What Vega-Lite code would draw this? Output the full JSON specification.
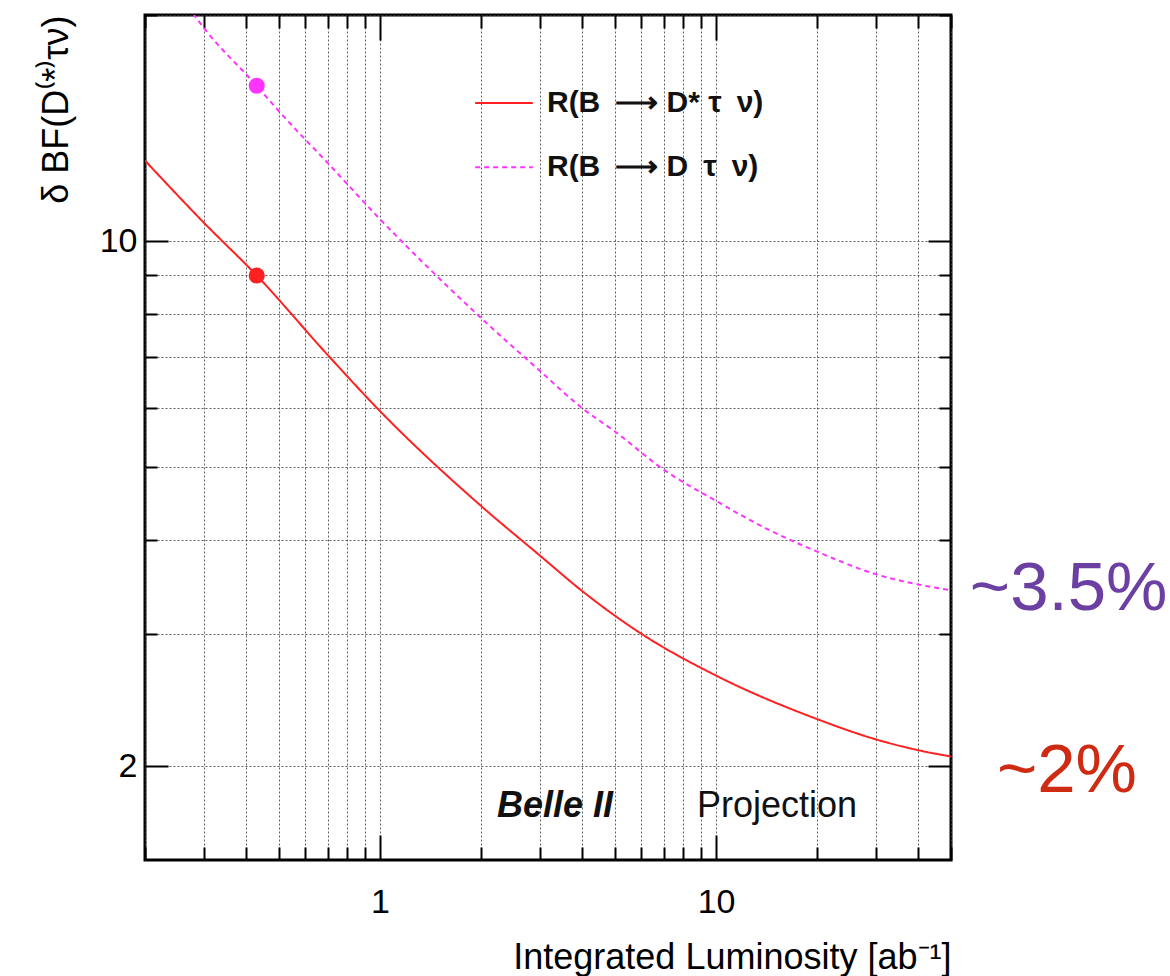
{
  "$schema": "https://vega.github.io/schema/vega-lite/v6.json",
  "width": 806,
  "height": 845,
  "autosize": {"type": "none"},
  "padding": {"left": 145, "top": 15, "right": 219, "bottom": 116},
  "background": "white",
  "config": {
    "view": {"stroke": "black", "strokeWidth": 3},
    "font": "Liberation Sans",
    "axis": {"labelFont": "Liberation Sans", "titleFont": "Liberation Sans"}
  },
  "resolve": {"axis": {"x": "independent", "y": "independent"}},
  "layer": [
    {
      "data": {
        "values": [
          {"lumi": 0.2, "err": 12.8, "series": "Dstar"},
          {"lumi": 0.3, "err": 10.57, "series": "Dstar"},
          {"lumi": 0.43, "err": 9.0, "series": "Dstar"},
          {"lumi": 0.7, "err": 7.05, "series": "Dstar"},
          {"lumi": 1, "err": 5.94, "series": "Dstar"},
          {"lumi": 2, "err": 4.44, "series": "Dstar"},
          {"lumi": 3, "err": 3.81, "series": "Dstar"},
          {"lumi": 4, "err": 3.42, "series": "Dstar"},
          {"lumi": 6, "err": 3.0, "series": "Dstar"},
          {"lumi": 10, "err": 2.64, "series": "Dstar"},
          {"lumi": 20, "err": 2.31, "series": "Dstar"},
          {"lumi": 30, "err": 2.17, "series": "Dstar"},
          {"lumi": 40, "err": 2.1, "series": "Dstar"},
          {"lumi": 50, "err": 2.06, "series": "Dstar"},
          {"lumi": 0.25, "err": 21.5, "series": "D"},
          {"lumi": 0.3, "err": 19.2, "series": "D"},
          {"lumi": 0.43, "err": 16.1, "series": "D"},
          {"lumi": 0.5, "err": 14.9, "series": "D"},
          {"lumi": 0.7, "err": 12.7, "series": "D"},
          {"lumi": 1, "err": 10.7, "series": "D"},
          {"lumi": 2, "err": 7.9, "series": "D"},
          {"lumi": 3, "err": 6.71, "series": "D"},
          {"lumi": 4, "err": 5.99, "series": "D"},
          {"lumi": 5, "err": 5.58, "series": "D"},
          {"lumi": 7, "err": 4.96, "series": "D"},
          {"lumi": 10, "err": 4.51, "series": "D"},
          {"lumi": 14, "err": 4.15, "series": "D"},
          {"lumi": 20, "err": 3.86, "series": "D"},
          {"lumi": 30, "err": 3.6, "series": "D"},
          {"lumi": 40, "err": 3.49, "series": "D"},
          {"lumi": 50, "err": 3.43, "series": "D"}
        ]
      },
      "mark": {"type": "line", "clip": true, "strokeWidth": 2, "interpolate": "monotone"},
      "encoding": {
        "x": {
          "field": "lumi", "type": "quantitative",
          "scale": {"type": "log", "domain": [0.2, 50], "nice": false},
          "axis": {
            "orient": "bottom",
            "values": [0.2, 0.3, 0.4, 0.5, 0.6, 0.7, 0.8, 0.9, 1, 2, 3, 4, 5, 6, 7, 8, 9, 10, 20, 30, 40, 50],
            "grid": true, "gridColor": "#444", "gridDash": [2, 2], "gridWidth": 1, "gridOpacity": 0.85,
            "domain": false,
            "tickColor": "black", "tickWidth": 2,
            "tickSize": {"condition": {"test": "datum.value == 1 || datum.value == 10", "value": -25}, "value": -13},
            "labelExpr": "datum.value == 1 || datum.value == 10 ? datum.label : ''",
            "format": "~g", "labelOverlap": false, "labelFontSize": 34, "labelColor": "black", "labelPadding": 50,
            "title": "Integrated Luminosity [ab⁻¹]", "titleAnchor": "end", "titleFontSize": 36,
            "titleFontWeight": "normal", "titleColor": "black", "titlePadding": 9
          }
        },
        "y": {
          "field": "err", "type": "quantitative",
          "scale": {"type": "log", "domain": [1.5, 20], "nice": false},
          "axis": {
            "orient": "left",
            "values": [2, 3, 4, 5, 6, 7, 8, 9, 10, 20],
            "grid": true, "gridColor": "#444", "gridDash": [2, 2], "gridWidth": 1, "gridOpacity": 0.85,
            "domain": false,
            "tickColor": "black", "tickWidth": 2,
            "tickSize": {"condition": {"test": "datum.value == 2 || datum.value == 10", "value": -23}, "value": -12},
            "labelExpr": "datum.value == 2 || datum.value == 10 ? datum.label : ''",
            "format": "~g", "labelOverlap": false, "labelFontSize": 34, "labelColor": "black", "labelPadding": 31,
            "title": "δ BF(D⁽*⁾τν)", "titleAnchor": "end", "titleFontSize": 36,
            "titleFontWeight": "normal", "titleColor": "black", "titlePadding": 24
          }
        },
        "color": {"field": "series", "type": "nominal", "scale": {"domain": ["Dstar", "D"], "range": ["#ff2020", "#ff33ff"]}, "legend": null},
        "strokeDash": {"field": "series", "type": "nominal", "scale": {"domain": ["Dstar", "D"], "range": [[1, 0], [5, 4]]}, "legend": null}
      }
    },
    {
      "data": {
        "values": [
          {"lumi": 0.43, "err": 9.0, "series": "Dstar"},
          {"lumi": 0.43, "err": 16.1, "series": "D"}
        ]
      },
      "mark": {"type": "circle", "size": 260, "opacity": 1},
      "encoding": {
        "x": {
          "field": "lumi", "type": "quantitative",
          "axis": {
            "orient": "top",
            "values": [0.2, 0.3, 0.4, 0.5, 0.6, 0.7, 0.8, 0.9, 1, 2, 3, 4, 5, 6, 7, 8, 9, 10, 20, 30, 40, 50],
            "grid": false, "domain": false, "labels": false, "title": null,
            "tickColor": "black", "tickWidth": 2,
            "tickSize": {"condition": {"test": "datum.value == 1 || datum.value == 10", "value": -25}, "value": -13}
          }
        },
        "y": {
          "field": "err", "type": "quantitative",
          "axis": {
            "orient": "right",
            "values": [2, 3, 4, 5, 6, 7, 8, 9, 10, 20],
            "grid": false, "domain": false, "labels": false, "title": null,
            "tickColor": "black", "tickWidth": 2,
            "tickSize": {"condition": {"test": "datum.value == 2 || datum.value == 10", "value": -23}, "value": -12}
          }
        },
        "color": {"field": "series", "type": "nominal", "scale": {"domain": ["Dstar", "D"], "range": ["#ff2020", "#ff33ff"]}, "legend": null}
      }
    },
    {
      "data": {
        "values": [
          {"x1": 1.92, "x2": 2.85, "ly": 15.27, "series": "Dstar"},
          {"x1": 1.92, "x2": 2.85, "ly": 12.54, "series": "D"}
        ]
      },
      "mark": {"type": "rule", "strokeWidth": 2},
      "encoding": {
        "x": {"field": "x1", "type": "quantitative", "axis": null},
        "x2": {"field": "x2"},
        "y": {"field": "ly", "type": "quantitative", "axis": null},
        "color": {"field": "series", "type": "nominal", "scale": {"domain": ["Dstar", "D"], "range": ["#ff2020", "#ff33ff"]}, "legend": null},
        "strokeDash": {"field": "series", "type": "nominal", "scale": {"domain": ["Dstar", "D"], "range": [[1, 0], [5, 4]]}, "legend": null}
      }
    },
    {
      "data": {
        "values": [
          {"tx": 3.14, "ty": 15.27, "label": "R(B\u2002⟶ D* τ\u2002ν)"},
          {"tx": 3.14, "ty": 12.54, "label": "R(B\u2002⟶ D\u2002τ\u2002ν)"}
        ]
      },
      "mark": {"type": "text", "align": "left", "baseline": "middle", "fontSize": 30, "fontWeight": "bold", "color": "#111", "font": "Liberation Sans"},
      "encoding": {
        "x": {"field": "tx", "type": "quantitative", "axis": null},
        "y": {"field": "ty", "type": "quantitative", "axis": null},
        "text": {"field": "label"}
      }
    },
    {
      "data": {"values": [{"tx": 2.23, "ty": 1.77, "label": "Belle II"}]},
      "mark": {"type": "text", "align": "left", "baseline": "middle", "fontSize": 36, "fontWeight": "bold", "fontStyle": "italic", "color": "#111", "font": "Liberation Sans"},
      "encoding": {
        "x": {"field": "tx", "type": "quantitative", "axis": null},
        "y": {"field": "ty", "type": "quantitative", "axis": null},
        "text": {"field": "label"}
      }
    },
    {
      "data": {"values": [{"tx": 8.77, "ty": 1.77, "label": "Projection"}]},
      "mark": {"type": "text", "align": "left", "baseline": "middle", "fontSize": 36, "color": "#111", "font": "Liberation Sans"},
      "encoding": {
        "x": {"field": "tx", "type": "quantitative", "axis": null},
        "y": {"field": "ty", "type": "quantitative", "axis": null},
        "text": {"field": "label"}
      }
    },
    {
      "data": {"values": [{"tx": 56.9, "ty": 3.44, "label": "~3.5%"}]},
      "mark": {"type": "text", "align": "left", "baseline": "middle", "fontSize": 69, "font": "Liberation Sans", "color": "#6c3fa2", "clip": false},
      "encoding": {
        "x": {"field": "tx", "type": "quantitative", "axis": null},
        "y": {"field": "ty", "type": "quantitative", "axis": null},
        "text": {"field": "label"}
      }
    },
    {
      "data": {"values": [{"tx": 68.5, "ty": 1.97, "label": "~2%"}]},
      "mark": {"type": "text", "align": "left", "baseline": "middle", "fontSize": 69, "font": "Liberation Sans", "color": "#cf2a12", "clip": false},
      "encoding": {
        "x": {"field": "tx", "type": "quantitative", "axis": null},
        "y": {"field": "ty", "type": "quantitative", "axis": null},
        "text": {"field": "label"}
      }
    }
  ]
}
